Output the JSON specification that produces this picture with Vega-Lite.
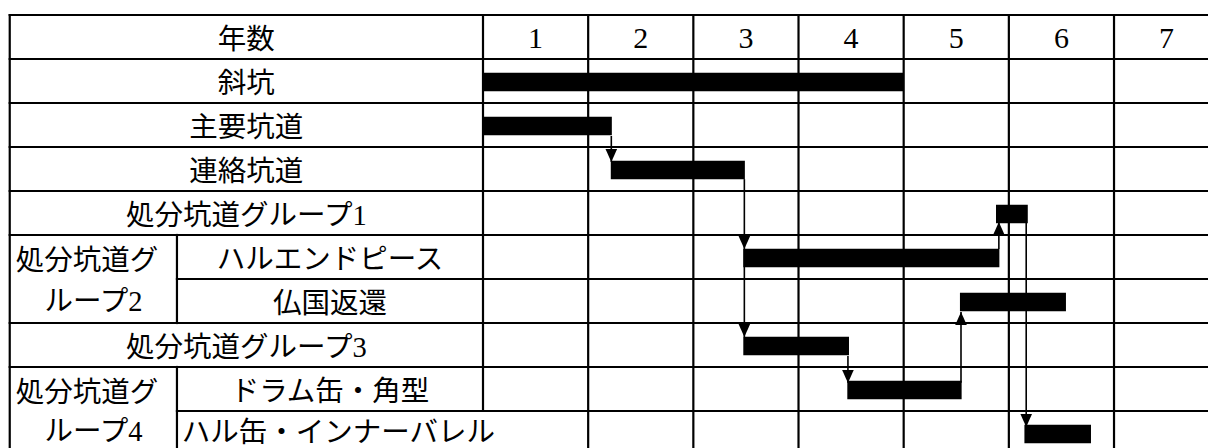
{
  "$schema": "https://vega.github.io/schema/vega-lite/v6.json",
  "width": 1208,
  "height": 448,
  "autosize": {"type": "fit", "contains": "padding"},
  "padding": 0,
  "background": "white",
  "config": {"view": {"stroke": null}},
  "datasets": {
    "grid": [
      {"x1": -4.5, "x2": 7, "y1": -0.5, "y2": -0.5},
      {"x1": -4.5, "x2": 7, "y1": 0.5, "y2": 0.5},
      {"x1": -4.5, "x2": 7, "y1": 1.5, "y2": 1.5},
      {"x1": -4.5, "x2": 7, "y1": 2.5, "y2": 2.5},
      {"x1": -4.5, "x2": 7, "y1": 3.5, "y2": 3.5},
      {"x1": -4.5, "x2": 7, "y1": 4.5, "y2": 4.5},
      {"x1": -2.91, "x2": 7, "y1": 5.5, "y2": 5.5},
      {"x1": -4.5, "x2": 7, "y1": 6.5, "y2": 6.5},
      {"x1": -4.5, "x2": 7, "y1": 7.5, "y2": 7.5},
      {"x1": -2.91, "x2": 7, "y1": 8.5, "y2": 8.5},
      {"x1": -4.5, "x2": 7, "y1": 9.5, "y2": 9.5},
      {"x1": -4.5, "x2": -4.5, "y1": -0.5, "y2": 9.5},
      {"x1": -2.91, "x2": -2.91, "y1": 4.5, "y2": 6.5},
      {"x1": -2.91, "x2": -2.91, "y1": 7.5, "y2": 9.5},
      {"x1": 0, "x2": 0, "y1": -0.5, "y2": 8.5},
      {"x1": 1, "x2": 1, "y1": -0.5, "y2": 9.5},
      {"x1": 2, "x2": 2, "y1": -0.5, "y2": 9.5},
      {"x1": 3, "x2": 3, "y1": -0.5, "y2": 9.5},
      {"x1": 4, "x2": 4, "y1": -0.5, "y2": 9.5},
      {"x1": 5, "x2": 5, "y1": -0.5, "y2": 9.5},
      {"x1": 6, "x2": 6, "y1": -0.5, "y2": 9.5},
      {"x1": 7, "x2": 7, "y1": -0.5, "y2": 9.5}
    ],
    "tasks": [
      {"task": "斜坑", "row": 1, "start": 0, "end": 4},
      {"task": "主要坑道", "row": 2, "start": 0, "end": 1.225},
      {"task": "連絡坑道", "row": 3, "start": 1.215, "end": 2.49},
      {"task": "処分坑道グループ1", "row": 4, "start": 4.878, "end": 5.18},
      {"task": "ハルエンドピース", "row": 5, "start": 2.475, "end": 4.91},
      {"task": "仏国返還", "row": 6, "start": 4.535, "end": 5.543},
      {"task": "処分坑道グループ3", "row": 7, "start": 2.475, "end": 3.48},
      {"task": "ドラム缶・角型", "row": 8, "start": 3.464, "end": 4.551},
      {"task": "ハル缶・インナーバレル", "row": 9, "start": 5.148, "end": 5.781}
    ],
    "links": [
      {"x": 1.22, "y1": 2.25, "y2": 2.84},
      {"x": 2.485, "y1": 3.23, "y2": 6.82},
      {"x": 4.905, "y1": 4.82, "y2": 4.21},
      {"x": 3.47, "y1": 7.25, "y2": 7.86},
      {"x": 4.545, "y1": 7.86, "y2": 6.25},
      {"x": 5.165, "y1": 4.18, "y2": 8.86}
    ],
    "heads": [
      {"x": 1.22, "y": 2.841, "dir": "down"},
      {"x": 2.485, "y": 4.818, "dir": "down"},
      {"x": 2.485, "y": 6.818, "dir": "down"},
      {"x": 4.905, "y": 4.205, "dir": "up"},
      {"x": 3.47, "y": 7.864, "dir": "down"},
      {"x": 4.545, "y": 6.25, "dir": "up"},
      {"x": 5.165, "y": 8.864, "dir": "down"}
    ],
    "labels": [
      {"label": "年数", "x": -2.25, "row": 0},
      {"label": "斜坑", "x": -2.25, "row": 1},
      {"label": "主要坑道", "x": -2.25, "row": 2},
      {"label": "連絡坑道", "x": -2.25, "row": 3},
      {"label": "処分坑道グループ1", "x": -2.25, "row": 4},
      {"label": "ハルエンドピース", "x": -1.455, "row": 5},
      {"label": "仏国返還", "x": -1.455, "row": 6},
      {"label": "処分坑道グループ3", "x": -2.25, "row": 7},
      {"label": "ドラム缶・角型", "x": -1.455, "row": 8},
      {"label": "処分坑道グ", "x": -3.766, "row": 5.03},
      {"label": "ループ2", "x": -3.704, "row": 5.95},
      {"label": "処分坑道グ", "x": -3.766, "row": 8.03},
      {"label": "ループ4", "x": -3.704, "row": 8.91}
    ],
    "leftlabels": [
      {"label": "ハル缶・インナーバレル", "x": -2.865, "row": 9}
    ],
    "years": [
      {"year": 1}, {"year": 2}, {"year": 3}, {"year": 4}, {"year": 5}, {"year": 6}, {"year": 7}
    ]
  },
  "layer": [
    {
      "data": {"name": "grid"},
      "mark": {"type": "rule", "color": "black", "strokeWidth": 2.2, "strokeCap": "square", "clip": true},
      "encoding": {
        "x": {"field": "x1", "type": "quantitative", "scale": {"domain": [-4.5926, 6.8936], "nice": false, "zero": false}, "axis": null},
        "x2": {"field": "x2"},
        "y": {"field": "y1", "type": "quantitative", "scale": {"domain": [-0.8409, 9.3409], "nice": false, "zero": false, "reverse": true}, "axis": null},
        "y2": {"field": "y2"}
      }
    },
    {
      "data": {"name": "tasks"},
      "mark": {"type": "rule", "color": "black", "strokeWidth": 18.5, "strokeCap": "butt", "yOffset": 1, "clip": true},
      "encoding": {
        "x": {"field": "start", "type": "quantitative", "scale": {"domain": [-4.5926, 6.8936], "nice": false, "zero": false}, "axis": null},
        "x2": {"field": "end"},
        "y": {"field": "row", "type": "quantitative", "scale": {"domain": [-0.8409, 9.3409], "nice": false, "zero": false, "reverse": true}, "axis": null}
      }
    },
    {
      "data": {"name": "links"},
      "mark": {"type": "rule", "color": "black", "strokeWidth": 1.6, "clip": true},
      "encoding": {
        "x": {"field": "x", "type": "quantitative", "scale": {"domain": [-4.5926, 6.8936], "nice": false, "zero": false}, "axis": null},
        "y": {"field": "y1", "type": "quantitative", "scale": {"domain": [-0.8409, 9.3409], "nice": false, "zero": false, "reverse": true}, "axis": null},
        "y2": {"field": "y2"}
      }
    },
    {
      "data": {"name": "heads"},
      "mark": {"type": "point", "filled": true, "color": "black", "opacity": 1, "size": 210, "strokeWidth": 0, "clip": true},
      "encoding": {
        "x": {"field": "x", "type": "quantitative", "scale": {"domain": [-4.5926, 6.8936], "nice": false, "zero": false}, "axis": null},
        "y": {"field": "y", "type": "quantitative", "scale": {"domain": [-0.8409, 9.3409], "nice": false, "zero": false, "reverse": true}, "axis": null},
        "shape": {"field": "dir", "type": "nominal", "scale": {"domain": ["down", "up"], "range": ["M0,0L-0.8,-1.8L0.8,-1.8Z", "M0,0L-0.8,1.8L0.8,1.8Z"]}, "legend": null}
      }
    },
    {
      "data": {"name": "labels"},
      "mark": {"type": "text", "align": "center", "baseline": "middle", "dy": 3, "fontSize": 28.5, "font": "Liberation Serif, Noto Sans CJK JP", "color": "black", "clip": true},
      "encoding": {
        "x": {"field": "x", "type": "quantitative", "scale": {"domain": [-4.5926, 6.8936], "nice": false, "zero": false}, "axis": null},
        "y": {"field": "row", "type": "quantitative", "scale": {"domain": [-0.8409, 9.3409], "nice": false, "zero": false, "reverse": true}, "axis": null},
        "text": {"field": "label"}
      }
    },
    {
      "data": {"name": "leftlabels"},
      "mark": {"type": "text", "align": "left", "baseline": "middle", "dy": 0, "fontSize": 28.5, "font": "Liberation Serif, Noto Sans CJK JP", "color": "black", "clip": true},
      "encoding": {
        "x": {"field": "x", "type": "quantitative", "scale": {"domain": [-4.5926, 6.8936], "nice": false, "zero": false}, "axis": null},
        "y": {"field": "row", "type": "quantitative", "scale": {"domain": [-0.8409, 9.3409], "nice": false, "zero": false, "reverse": true}, "axis": null},
        "text": {"field": "label"}
      }
    },
    {
      "data": {"name": "years"},
      "mark": {"type": "text", "align": "center", "baseline": "middle", "dy": 2, "fontSize": 30, "font": "Liberation Serif", "color": "black", "xOffset": -52.6, "clip": true},
      "encoding": {
        "x": {"field": "year", "type": "quantitative", "scale": {"domain": [-4.5926, 6.8936], "nice": false, "zero": false}, "axis": null},
        "y": {"datum": 0, "type": "quantitative", "scale": {"domain": [-0.8409, 9.3409], "nice": false, "zero": false, "reverse": true}, "axis": null},
        "text": {"field": "year", "type": "quantitative"}
      }
    }
  ]
}
